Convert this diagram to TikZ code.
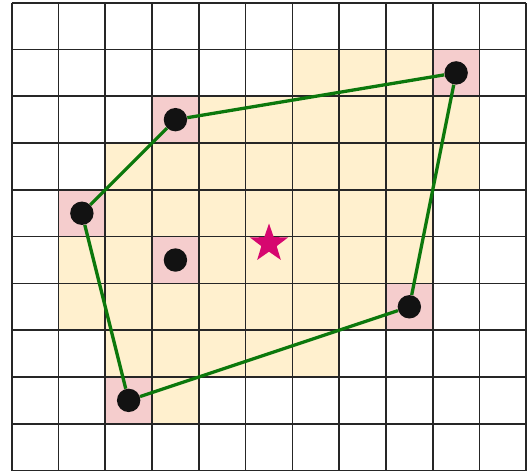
\documentclass[tikz,border=0pt]{standalone}
\usepackage{xcolor}
\usepackage{tikz}
\usetikzlibrary{shapes.geometric,positioning}

\definecolor{cellyellow}{HTML}{FFF0CE}
\definecolor{cellpink}{HTML}{F5CDCD}
\definecolor{hullgreen}{HTML}{0C780C}
\definecolor{starpink}{HTML}{D6076F}

\tikzset{
  gridline/.style={line width=1pt, black!85},
  hull/.style={line width=2pt, hullgreen},
  dot/.style={circle, fill=black!93, minimum size=0.5cm, inner sep=0pt},
  centre/.style={star, star points=5, star point ratio=2.5, fill=starpink,
    minimum size=0.86cm, inner sep=0pt}
}

\begin{document}
\begin{tikzpicture}
\useasboundingbox (-0.25,-0.043) rectangle (11.036,10.058);

% Cells inside the hull
\foreach \a/\b/\y in {6/9/8, 4/10/7, 2/10/6, 2/9/5, 1/9/4, 1/8/3, 2/7/2, 3/4/1}
  \fill[cellyellow] (\a,\y) rectangle (\b,\y+1);

% Cells holding a point
\foreach \x/\y in {9/8, 3/7, 1/5, 3/4, 8/3, 2/1}
  \fill[cellpink] (\x,\y) rectangle ++(1,1);

% Grid
\draw[gridline] (0,0) grid (11,10);

% Points
\node[dot] (p1) at (3.5,7.5) {};
\node[dot] (p2) at (1.5,5.5) {};
\node[dot] (p3) at (9.5,8.5) {};
\node[dot] (p4) at (3.5,4.5) {};
\node[dot] (p5) at (2.5,1.5) {};
\node[dot] (p6) at (8.5,3.5) {};

% Hull
\draw[hull] (p1) -- (p3) -- (p6) -- (p5) -- (p2) -- (p1);

% Centre
\node[centre] (c) at (5.5,4.85) {};
\end{tikzpicture}
\end{document}
